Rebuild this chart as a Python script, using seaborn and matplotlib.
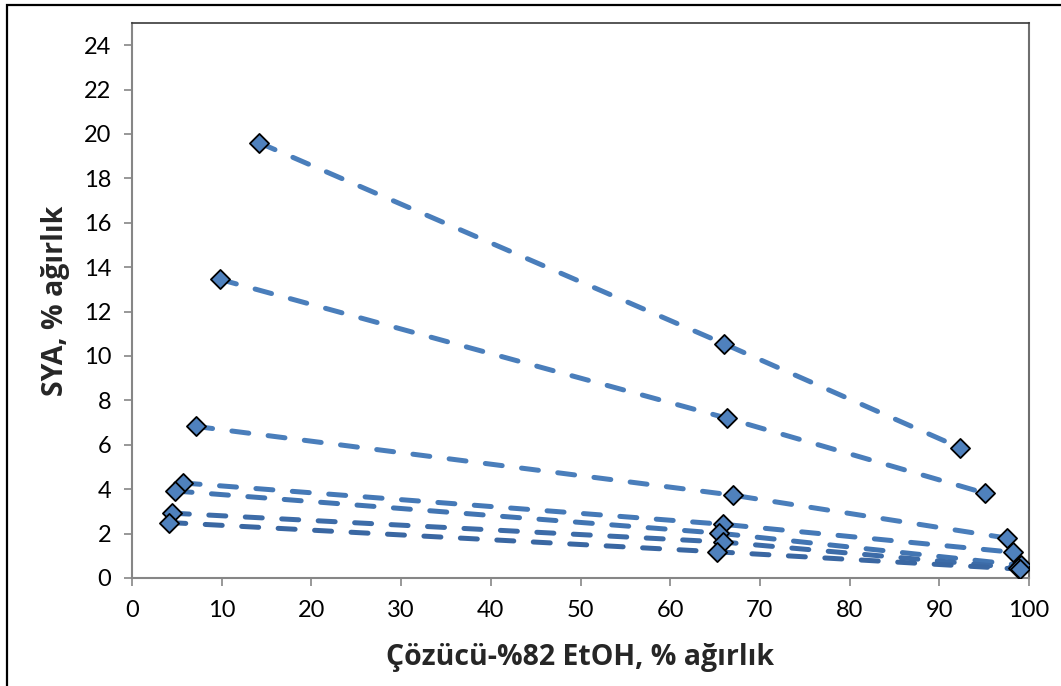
import matplotlib
matplotlib.use("Agg")
import matplotlib.pyplot as plt
import seaborn as sns
import pandas as pd
from matplotlib.patches import Rectangle

# Tie-line data (Çözücü-%82 EtOH, % ağırlık  vs  SYA, % ağırlık)
series_names = ["T1", "T2", "T3", "T4", "T5", "T6", "T7"]
x_values = [
    [14.2, 66.0, 92.3],
    [9.8, 66.3, 95.1],
    [7.1, 67.0, 97.5],
    [5.7, 65.9, 98.2],
    [4.8, 65.4, 99.1],
    [4.5, 65.9, 98.8],
    [4.1, 65.2, 99.0],
]
y_values = [
    [19.6, 10.55, 5.87],
    [13.45, 7.2, 3.82],
    [6.83, 3.73, 1.8],
    [4.28, 2.42, 1.16],
    [3.92, 2.02, 0.58],
    [2.92, 1.62, 0.45],
    [2.5, 1.18, 0.4],
]
line_colors = ["#4a7ebb", "#4a7ebb", "#4a7ebb", "#4579b7", "#4275b2", "#3d6ca8", "#3a67a2"]
x_ticks = list(range(0, 101, 10))
y_ticks = list(range(0, 25, 2))

rows = []
for name, xs, ys in zip(series_names, x_values, y_values):
    for xv, yv in zip(xs, ys):
        rows.append({"series": name, "x": xv, "y": yv})
df = pd.DataFrame(rows)

sns.set_theme(style="white")
plt.rcParams["font.family"] = ["Lato", "DejaVu Sans"]
plt.rcParams["lines.dash_capstyle"] = "round"

fig = plt.figure(figsize=(10.61, 6.86), dpi=100)
W, H = 1061, 686
ax = fig.add_axes([132 / W, 1 - 578 / H, (1029 - 132) / W, (578 - 23) / H])

sns.lineplot(data=df, x="x", y="y", hue="series", style="series",
             palette=line_colors, dashes=[(3.4, 3.9)] * len(series_names),
             linewidth=3.6, sort=False, estimator=None, legend=False, ax=ax,
             zorder=2)
for name, xs, ys in zip(series_names, x_values, y_values):
    sns.scatterplot(x=xs, y=ys, marker="D", s=95, color="#4f81bd",
                    edgecolor="black", linewidth=1.3, ax=ax, zorder=3, legend=False)

ax.set_xlim(0, 100)
ax.set_ylim(0, 25)
ax.set_xticks(x_ticks)
ax.set_yticks(y_ticks)
ax.tick_params(axis="both", direction="out", length=6, width=1.2, color="#868686",
               labelsize=17, labelcolor="black", bottom=True, left=True, pad=6)
ax.tick_params(axis="y", pad=9)
ax.tick_params(axis="x", pad=10)
for s in ["left", "bottom"]:
    ax.spines[s].set_color("#868686")
    ax.spines[s].set_linewidth(1.5)
ax.spines["top"].set_color("#3a3a3a")
ax.spines["top"].set_linewidth(1.2)
ax.spines["right"].set_color("#6f6f6f")
ax.spines["right"].set_linewidth(1.5)
ax.grid(False)

label_font = dict(fontsize=20.5, fontweight="bold", family=["Open Sans", "DejaVu Sans"])
ax.set_xlabel("Çözücü-%82 EtOH, % ağırlık", labelpad=16, **label_font)
ax.set_ylabel("SYA, % ağırlık", labelpad=10, **label_font)

fig.patches.append(Rectangle((7 / W, -0.05), 1.1, (1 - 5 / H) + 0.05,
                             transform=fig.transFigure, fill=False,
                             edgecolor="black", linewidth=1.6))

fig.savefig("out.png", dpi=100)
